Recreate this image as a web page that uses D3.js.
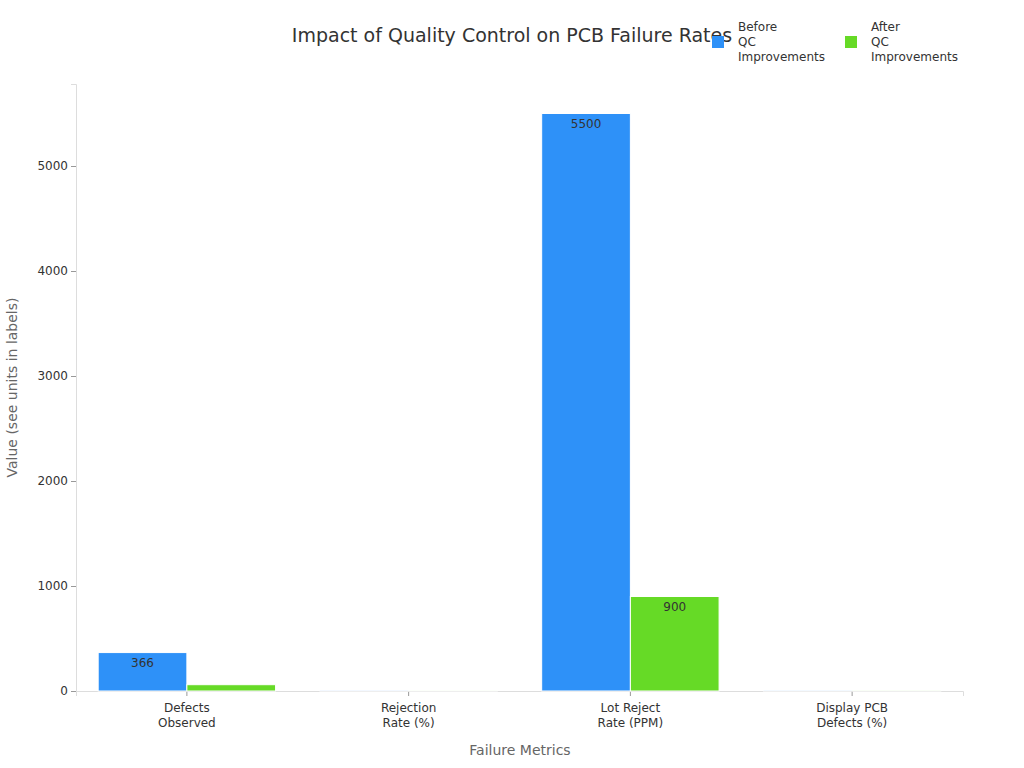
<!DOCTYPE html><html><head><meta charset="utf-8"><script src="https://cdn.jsdelivr.net/npm/d3@7"></script>
<style>body{margin:0;background:#fff;font-family:"DejaVu Sans",sans-serif}</style></head><body><svg id="c" width="1024" height="768"></svg>
<script>
const categories=[["Defects","Observed"],["Rejection","Rate (%)"],["Lot Reject","Rate (PPM)"],["Display PCB","Defects (%)"]];
const seriesNames=[["Before","QC","Improvements"],["After","QC","Improvements"]];
const before=[366,2.5,5500,3];
const after=[60,0.5,900,1];
const colors=["#2e91f8","#66da26"];
const yTicks=[0,1000,2000,3000,4000,5000];
const svg=d3.select("#c");
const L=76,R=963,T=84,B=691;
const x=d3.scaleBand().domain(d3.range(4)).range([L,R]);
const y=d3.scaleLinear().domain([0,5781]).range([B,T]);
const x1=d3.scaleBand().domain([0,1]).range([x.bandwidth()*0.1,x.bandwidth()*0.9]);
svg.append("text").attr("x",512).attr("y",42).attr("text-anchor","middle").attr("font-size",19).attr("fill","#333").text("Impact of Quality Control on PCB Failure Rates");
const ya=svg.append("g").attr("transform",`translate(${L},0)`).call(d3.axisLeft(y).tickValues(yTicks).tickSize(5).tickFormat(d3.format("d")));
ya.select(".domain").attr("stroke","#ddd");ya.selectAll(".tick line").attr("stroke","#999");ya.selectAll("text").attr("font-size",12).attr("fill","#333").attr("font-family","DejaVu Sans");
const xa=svg.append("g").attr("transform",`translate(0,${B})`).call(d3.axisBottom(x).tickSize(5).tickFormat(""));
xa.select(".domain").attr("stroke","#ddd");xa.selectAll(".tick line").attr("stroke","#999");
categories.forEach((c,i)=>{const t=svg.append("text").attr("x",x(i)+x.bandwidth()/2).attr("y",712).attr("text-anchor","middle").attr("font-size",12).attr("fill","#333");c.forEach((s,j)=>t.append("tspan").attr("x",x(i)+x.bandwidth()/2).attr("dy",j?15:0).text(s));});
[before,after].forEach((vals,s)=>{
 const g=svg.append("g");
 vals.forEach((v,i)=>{
  g.append("rect").attr("x",x(i)+x1(s)).attr("width",x1.bandwidth()).attr("y",y(v)).attr("height",B-y(v)).attr("fill",colors[s]).attr("stroke","#fff").attr("stroke-width",1);
  if(B-y(v)>20) g.append("text").attr("x",x(i)+x1(s)+x1.bandwidth()/2).attr("y",y(v)+14).attr("text-anchor","middle").attr("font-size",12).attr("fill","#333").text(v);
 });
});
svg.append("text").attr("transform",`translate(17,${(T+B)/2}) rotate(-90)`).attr("text-anchor","middle").attr("font-size",14).attr("fill","#666").text("Value (see units in labels)");
svg.append("text").attr("x",520).attr("y",755).attr("text-anchor","middle").attr("font-size",14).attr("fill","#666").text("Failure Metrics");
[[712,738],[845,871]].forEach(([rx,tx],s)=>{
 svg.append("rect").attr("x",rx).attr("y",36).attr("width",12).attr("height",12).attr("fill",colors[s]);
 const t=svg.append("text").attr("y",31).attr("font-size",12).attr("fill","#333");
 seriesNames[s].forEach((n,j)=>t.append("tspan").attr("x",tx).attr("dy",j?15:0).text(n));
});
</script></body></html>
